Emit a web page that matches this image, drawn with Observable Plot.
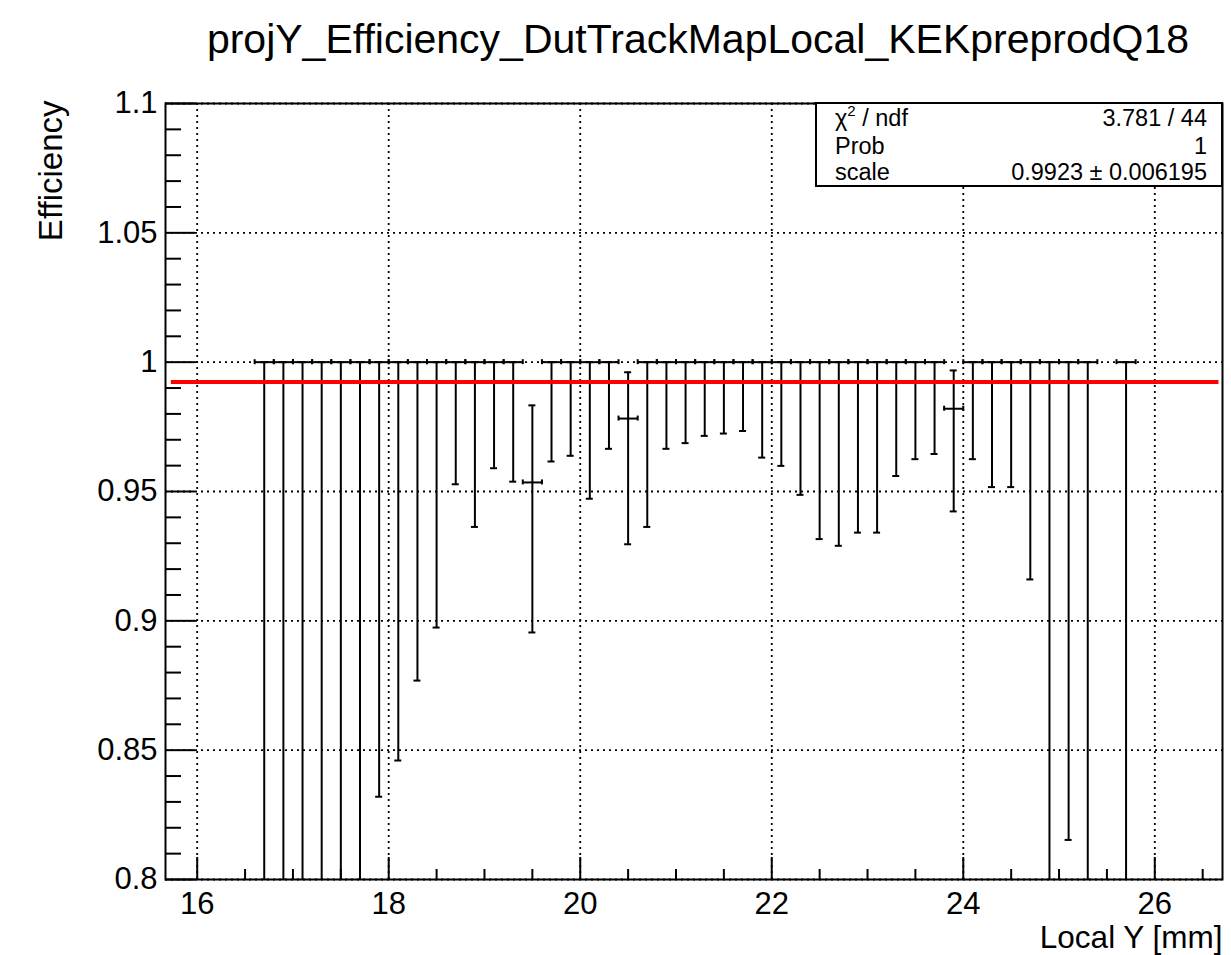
<!DOCTYPE html>
<html>
<head>
<meta charset="utf-8">
<script src="https://cdn.jsdelivr.net/npm/d3@7"></script>
<script src="https://cdn.jsdelivr.net/npm/@observablehq/plot@0.6"></script>
<style>
  html, body { margin: 0; padding: 0; background: #fff; }
  #chart svg { display: block; }
</style>
</head>
<body>
<div id="chart"></div>
<script>
// Efficiency per 0.2 mm bin of local Y (bin centres), with asymmetric confidence bounds
const binCenters = [16.7, 16.9, 17.1, 17.3, 17.5, 17.7, 17.9, 18.1, 18.3, 18.5,
                    18.7, 18.9, 19.1, 19.3, 19.5, 19.7, 19.9, 20.1, 20.3, 20.5,
                    20.7, 20.9, 21.1, 21.3, 21.5, 21.7, 21.9, 22.1, 22.3, 22.5,
                    22.7, 22.9, 23.1, 23.3, 23.5, 23.7, 23.9, 24.1, 24.3, 24.5,
                    24.7, 24.9, 25.1, 25.3, 25.7];
const efficiency = [1, 1, 1, 1, 1, 1, 1, 1, 1, 1,
                    1, 1, 1, 1, 0.9535, 1, 1, 1, 1, 0.9782,
                    1, 1, 1, 1, 1, 1, 1, 1, 1, 1,
                    1, 1, 1, 1, 1, 1, 0.9820, 1, 1, 1,
                    1, 1, 1, 1, 1];
const lowerBound = [0.16, 0.40, 0.54, 0.63, 0.69, 0.74, 0.832, 0.846, 0.8769, 0.8974,
                    0.9528, 0.9363, 0.9590, 0.9538, 0.8955, 0.9616, 0.9638, 0.9472, 0.9665, 0.9296,
                    0.9363, 0.9665, 0.9687, 0.9715, 0.9724, 0.9734, 0.9631, 0.9599, 0.9487, 0.9316,
                    0.9290, 0.9341, 0.9341, 0.9560, 0.9625, 0.9645, 0.9423, 0.9625, 0.9517, 0.9517,
                    0.9160, 0.60, 0.8153, 0.54, 0.40];
const upperBound = [1, 1, 1, 1, 1, 1, 1, 1, 1, 1,
                    1, 1, 1, 1, 0.9833, 1, 1, 1, 1, 0.9961,
                    1, 1, 1, 1, 1, 1, 1, 1, 1, 1,
                    1, 1, 1, 1, 1, 1, 0.9968, 1, 1, 1,
                    1, 1, 1, 1, 1];
const binWidth = 0.2;

// Constant fit result
const fitScale = 0.9923;
const fitError = 0.006195;
const fitRange = [15.73, 26.67];
const statNames = ["χ2 / ndf", "Prob", "scale"];
const statValues = ["3.781 / 44", "1", `${fitScale} ± ${fitError}`];

// Axes
const titleText = "projY_Efficiency_DutTrackMapLocal_KEKpreprodQ18";
const xTitle = "Local Y [mm]";
const yTitle = "Efficiency";
const xDomain = [15.669, 26.707];
const yDomain = [0.8, 1.1];
const xMajorTicks = [16, 18, 20, 22, 24, 26];
const xTickLabels = ["16", "18", "20", "22", "24", "26"];
const yMajorTicks = [0.8, 0.85, 0.9, 0.95, 1, 1.05, 1.1];
const yTickLabels = ["0.8", "0.85", "0.9", "0.95", "1", "1.05", "1.1"];
const xMinorTicks = d3.range(32, 54).map(k => k / 2).filter(v => v % 2 !== 0);
const yMinorTicks = d3.range(81, 110).map(k => k / 100).filter(v => Math.round(v * 100) % 5 !== 0);

const W = 1231, H = 955;
const margin = {top: 103, right: 9, bottom: 76, left: 165};
const innerW = W - margin.left - margin.right;
const innerH = H - margin.top - margin.bottom;
const font = "'Liberation Sans', Arial, Helvetica, sans-serif";

const bins = binCenters.map((x, i) => ({x, eff: efficiency[i], lo: lowerBound[i], hi: upperBound[i]}));
const half = binWidth / 2;
const capHalf = 3.5 * (xDomain[1] - xDomain[0]) / innerW;   // ~3.5 px
const endHalf = 2.5 * (yDomain[1] - yDomain[0]) / innerH;   // ~2.5 px

const xLabel = new Map(xMajorTicks.map((v, i) => [v, xTickLabels[i]]));
const yLabel = new Map(yMajorTicks.map((v, i) => [v, yTickLabels[i]]));
const grid = {stroke: "black", strokeWidth: 1.8, strokeDasharray: "2,4"};
const bar = {stroke: "black", strokeWidth: 2, clip: true};

const chart = Plot.plot({
  width: W,
  height: H,
  marginTop: margin.top,
  marginRight: margin.right,
  marginBottom: margin.bottom,
  marginLeft: margin.left,
  x: {domain: xDomain, axis: null},
  y: {domain: yDomain, axis: null},
  style: {fontFamily: font, background: "white", color: "black", overflow: "visible"},
  marks: [
    // dotted grid on major divisions
    Plot.ruleX(xMajorTicks, {x: d => d, ...grid}),
    Plot.ruleY(yMajorTicks, {y: d => d, ...grid}),
    // inward tick marks
    Plot.tickY(yMajorTicks, {y: d => d, insetRight: innerW - 30, stroke: "black", strokeWidth: 2}),
    Plot.tickY(yMinorTicks, {y: d => d, insetRight: innerW - 16, stroke: "black", strokeWidth: 2}),
    Plot.tickX(xMajorTicks, {x: d => d, insetTop: innerH - 22, stroke: "black", strokeWidth: 2}),
    Plot.tickX(xMinorTicks, {x: d => d, insetTop: innerH - 10, stroke: "black", strokeWidth: 2}),
    // tick labels
    Plot.axisY({ticks: yMajorTicks, tickSize: 0, tickPadding: 8, fontSize: 31,
                tickFormat: d => yLabel.get(d), label: null}),
    Plot.axisX({ticks: xMajorTicks, tickSize: 0, tickPadding: 12, fontSize: 31,
                tickFormat: d => xLabel.get(d), label: null}),
    // error bars
    Plot.ruleX(bins, {x: "x", y1: "lo", y2: "hi", ...bar}),
    Plot.ruleY(bins, {y: "lo", x1: d => d.x - capHalf, x2: d => d.x + capHalf, ...bar}),
    Plot.ruleY(bins, {y: "hi", x1: d => d.x - capHalf, x2: d => d.x + capHalf, ...bar}),
    Plot.ruleY(bins, {y: "eff", x1: d => d.x - half, x2: d => d.x + half, ...bar}),
    Plot.ruleX(bins, {x: d => d.x - half, y1: d => d.eff - endHalf, y2: d => d.eff + endHalf, ...bar}),
    Plot.ruleX(bins, {x: d => d.x + half, y1: d => d.eff - endHalf, y2: d => d.eff + endHalf, ...bar}),
    // constant fit
    Plot.ruleY([fitScale], {x1: fitRange[0], x2: fitRange[1], stroke: "#ff0000", strokeWidth: 4}),
    Plot.frame({stroke: "black", strokeWidth: 2}),
    // titles
    Plot.text([titleText], {text: d => d, frameAnchor: "top", dx: 4, dy: -51,
                            lineAnchor: "bottom", fontSize: 41}),
    Plot.text([xTitle], {text: d => d, frameAnchor: "bottom-right", textAnchor: "end",
                         dy: 68, lineAnchor: "bottom", fontSize: 31.5}),
    Plot.text([yTitle], {text: d => d, frameAnchor: "top-left", rotate: -90, textAnchor: "end",
                         dx: -104, dy: -3, lineAnchor: "bottom", fontSize: 33})
  ]
});

// fit statistics box in the upper right corner
const svg = d3.select(chart);
const box = {x0: 816, y0: 103, x1: W - margin.right, y1: 186};
const stats = svg.append("g").attr("font-family", font).attr("font-size", 23.5).attr("fill", "black");
stats.append("rect")
  .attr("x", box.x0).attr("y", box.y0)
  .attr("width", box.x1 - box.x0).attr("height", box.y1 - box.y0)
  .attr("fill", "white").attr("stroke", "black").attr("stroke-width", 2);
const baselines = [126, 153.5, 179.5];
statNames.forEach((name, i) => {
  const t = stats.append("text").attr("x", 835).attr("y", baselines[i]).attr("text-anchor", "start");
  if (name.startsWith("χ2")) {
    t.append("tspan").text("χ");
    t.append("tspan").attr("font-size", 15).attr("dy", -10).text("2");
    t.append("tspan").attr("dy", 10).text(name.slice(2));
  } else {
    t.text(name);
  }
  stats.append("text").attr("x", 1207).attr("y", baselines[i])
    .attr("text-anchor", "end").text(statValues[i]);
});

document.getElementById("chart").appendChild(chart);
</script>
</body>
</html>
